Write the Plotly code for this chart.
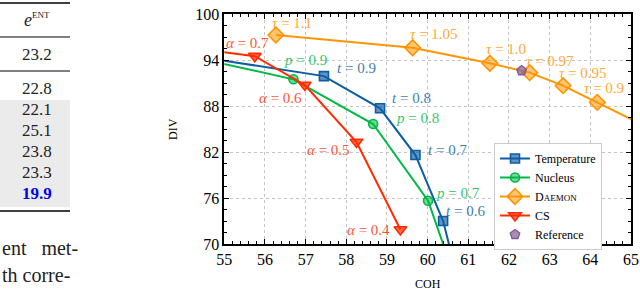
import plotly.graph_objects as go

W, H = 640, 291

# ---------------- data ----------------
temp_x = [54.0, 57.45, 58.83, 59.70, 60.38, 60.80]
temp_y = [94.72, 91.9, 87.7, 81.6, 73.0, 64.2]
temp_lbl = ["t = 0.9", "t = 0.8", "t = 0.7", "t = 0.6"]
temp_lbl_x = [58.25, 59.61, 60.50, 60.94]
temp_lbl_y = [92.9, 89.04, 82.26, 74.3]

nuc_x = [54.0, 56.70, 58.66, 60.01, 60.80]
nuc_y = [94.66, 91.48, 85.65, 75.65, 63.6]
nuc_lbl = ["p = 0.9", "p = 0.8", "p = 0.7"]
nuc_lbl_x = [57.0, 59.76, 60.75]
nuc_lbl_y = [94.0, 86.43, 76.6]

dae_x = [56.27, 59.63, 61.53, 62.51, 63.33, 64.17, 66.0]
dae_y = [97.26, 95.6, 93.57, 92.35, 90.65, 88.48, 83.7]
dae_lbl = ["τ = 1.1", "τ = 1.05", "τ = 1.0", "τ = 0.97", "τ = 0.95", "τ = 0.9"]
dae_lbl_x = [56.66, 60.16, 61.93, 63.01, 63.83, 64.33]
dae_lbl_y = [98.83, 97.39, 95.43, 93.87, 92.3, 90.35]

cs_x = [54.0, 55.75, 56.98, 58.25, 59.33]
cs_y = [95.67, 94.5, 90.74, 83.3, 71.9]
cs_lbl = ["α = 0.7", "α = 0.6", "α = 0.5", "α = 0.4"]
cs_lbl_x = [55.58, 56.37, 57.56, 58.54]
cs_lbl_y = [96.2, 89.04, 82.26, 71.83]

ref_x = [62.31]
ref_y = [92.6]

x_ticks = [55, 56, 57, 58, 59, 60, 61, 62, 63, 64, 65]
y_ticks = [70, 76, 82, 88, 94, 100]

# table fragment (left side of the page)
table_header = "<i>e</i><sup><span style='font-size:9px'>ENT</span></sup>"
table_top = ["23.2"]
table_mid = ["22.8"]
table_shaded = ["22.1", "25.1", "23.8", "23.3"]
table_best = ["19.9"]
body_text = ["ent&nbsp;&nbsp;&nbsp;met-", "th corre-"]

C_T, C_N, C_D, C_C, C_R = "#0C5DA5", "#00B945", "#FF9500", "#FF2C00", "#845B97"
F_T, F_N, F_D, F_C, F_R = ("rgba(12,93,165,0.65)", "rgba(0,185,69,0.55)",
                           "rgba(255,149,0,0.55)", "rgba(255,44,0,0.7)",
                           "rgba(132,91,151,0.7)")
SERIF = "Liberation Serif, serif"

fig = go.Figure()

def add_series(name, xs, ys, col, fill, sym, size):
    fig.add_trace(go.Scatter(
        x=xs, y=ys, name=name, mode="lines+markers",
        line=dict(color=col, width=2),
        marker=dict(symbol=sym, size=size, color=fill, line=dict(color=col, width=1.6)),
    ))

add_series("Temperature", temp_x, temp_y, C_T, F_T, "square", 9)
add_series("Nucleus", nuc_x, nuc_y, C_N, F_N, "circle", 9)
add_series("D<span style='font-size:9px'>AEMON</span>", dae_x, dae_y, C_D, F_D, "diamond", 12)
add_series("CS", cs_x, cs_y, C_C, F_C, "triangle-down", 11)
fig.add_trace(go.Scatter(
    x=ref_x, y=ref_y, name="Reference", mode="markers",
    marker=dict(symbol="pentagon", size=10, color=F_R, line=dict(color=C_R, width=1.4)),
))

def add_labels(lbls, xs, ys, col):
    for t, x, y in zip(lbls, xs, ys):
        var, rest = t.split(" ", 1)
        fig.add_annotation(x=x, y=y, xref="x", yref="y", text=f"<i>{var}</i> {rest}",
                           showarrow=False, font=dict(family=SERIF, size=15, color=col),
                           opacity=0.8)

add_labels(temp_lbl, temp_lbl_x, temp_lbl_y, C_T)
add_labels(nuc_lbl, nuc_lbl_x, nuc_lbl_y, C_N)
add_labels(dae_lbl, dae_lbl_x, dae_lbl_y, C_D)
add_labels(cs_lbl, cs_lbl_x, cs_lbl_y, C_C)

# plot-area geometry (pixels)
L, R, T, B = 224.3, 631.0, 14.0, 244.0
px = lambda v: v / W
py = lambda v: 1 - v / H

axis_common = dict(
    showline=True, linecolor="black", linewidth=1.5, mirror="allticks",
    ticks="inside", ticklen=5, tickwidth=1.2, tickcolor="black",
    showgrid=True, gridcolor="#c4c4c4", griddash="dot", gridwidth=1,
    zeroline=False, tickfont=dict(family=SERIF, size=16, color="black"),
)
fig.update_xaxes(range=[55, 65], tickvals=x_ticks, domain=[px(L), px(R)],
                 minor=dict(ticks="inside", ticklen=3, tickcolor="black", dtick=0.2, tick0=55, showgrid=False),
                 **axis_common)
fig.update_yaxes(range=[70, 100], tickvals=y_ticks, domain=[py(B), py(T)],
                 minor=dict(ticks="inside", ticklen=3, tickcolor="black", dtick=1.5, tick0=70, showgrid=False),
                 **axis_common)

# axis titles
fig.add_annotation(x=px(428), y=py(284), xref="paper", yref="paper", text="COH",
                   xanchor="center", yanchor="middle",
                   showarrow=False, font=dict(family=SERIF, size=12, color="black"))
fig.add_annotation(x=px(173), y=py(129), xref="paper", yref="paper", text="DIV",
                   xanchor="center", yanchor="middle",
                   textangle=-90, showarrow=False, font=dict(family=SERIF, size=12, color="black"))

# ---------------- table fragment ----------------
TW = 70
shapes = [
    dict(type="rect", x0=0, x1=px(TW), y0=py(207), y1=py(100), xref="paper", yref="paper",
         fillcolor="#ebebeb", line=dict(width=0), layer="below"),
    dict(type="line", x0=0, x1=px(TW), y0=py(3), y1=py(3), xref="paper", yref="paper",
         line=dict(color="black", width=1.6)),
    dict(type="line", x0=0, x1=px(TW), y0=py(37), y1=py(37), xref="paper", yref="paper",
         line=dict(color="black", width=1)),
    dict(type="line", x0=0, x1=px(TW), y0=py(71), y1=py(71), xref="paper", yref="paper",
         line=dict(color="black", width=1)),
    dict(type="line", x0=0, x1=px(TW), y0=py(211), y1=py(211), xref="paper", yref="paper",
         line=dict(color="black", width=1.6)),
]
fig.update_layout(shapes=shapes)

TF = "Liberation Serif"
def txt(x, y, s, size=16, color="#222", xanchor="center"):
    fig.add_annotation(x=px(x), y=py(y), xref="paper", yref="paper", text=s, showarrow=False,
                       xanchor=xanchor, yanchor="middle",
                       font=dict(family=TF, size=size, color=color))

txt(37, 20, table_header, size=18)
txt(37, 54, table_top[0], size=17)
txt(37, 88, table_mid[0], size=17)
for i, v in enumerate(table_shaded):
    txt(37, 109 + i * 21.3, v, size=17)
txt(37, 193, f"<b>{table_best[0]}</b>", size=17, color="#0000ee")
txt(0, 248, body_text[0], size=20, xanchor="left")
txt(0, 275, body_text[1], size=20, xanchor="left")

fig.update_layout(
    width=W, height=H, margin=dict(l=0, r=0, t=0, b=0, autoexpand=False),
    paper_bgcolor="white", plot_bgcolor="white",
    font=dict(family=SERIF, color="black"),
    legend=dict(x=px(494), y=py(143), xanchor="left", yanchor="top",
                bgcolor="white", bordercolor="#cccccc", borderwidth=1,
                font=dict(family=SERIF, size=12, color="black"),
                tracegroupgap=0, itemwidth=30),
    showlegend=True,
)

fig.write_html("out.html", config={"displayModeBar": False},
               post_script="document.body.style.margin='0';document.body.style.overflow='hidden';")
